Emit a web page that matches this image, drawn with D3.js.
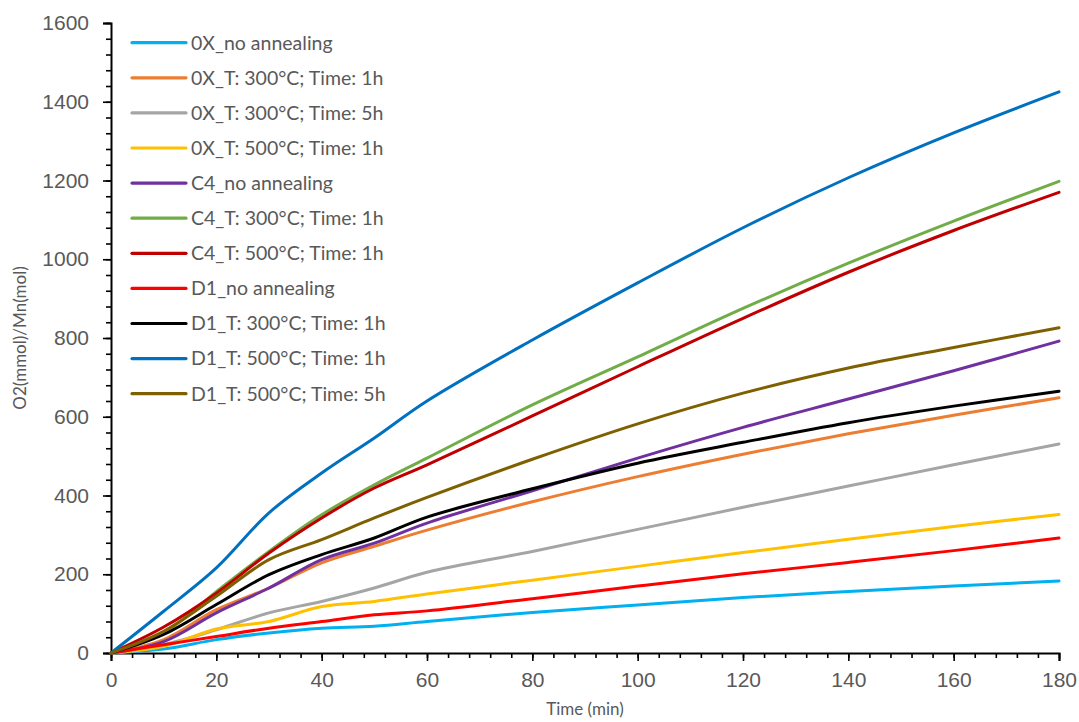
<!DOCTYPE html>
<meta charset="utf-8">
<style>
  body { margin: 0; background: #fff; }
  svg { display: block; font-family: Lato, "Open Sans", sans-serif; }
</style>
<svg width="1079" height="722"></svg>
<script src="https://d3js.org/d3.v7.min.js"></script>
<script>

// sampling times (min)
var times = [0, 10, 20, 30, 40, 50, 60, 80, 100, 120, 140, 160, 180];

// O2 evolution, one array per sample
var ox_none   = [0, 10, 34, 51, 63, 68, 80, 103, 122, 141, 156, 170, 183];
var ox_300_1h = [0, 34, 110, 165, 229, 271, 312, 384, 448, 505, 557, 604, 648];
var ox_300_5h = [0, 21, 59, 102, 131, 165, 205, 258, 314, 370, 424, 478, 531];
var ox_500_1h = [0, 17, 61, 80, 118, 131, 150, 185, 220, 255, 289, 321, 352];
var c4_none   = [0, 29, 102, 165, 237, 279, 330, 412, 495, 573, 645, 717, 792];
var c4_300_1h = [0, 51, 156, 258, 351, 427, 495, 630, 752, 875, 990, 1097, 1198];
var c4_500_1h = [0, 66, 152, 254, 343, 419, 478, 602, 727, 850, 967, 1073, 1170];
var d1_none   = [0, 21, 42, 63, 80, 97, 107, 138, 170, 201, 230, 260, 292];
var d1_300_1h = [0, 47, 123, 199, 250, 292, 345, 417, 482, 535, 585, 627, 665];
var d1_500_1h = [0, 106, 216, 356, 457, 546, 640, 795, 940, 1080, 1207, 1321, 1425];
var d1_500_5h = [0, 55, 144, 237, 288, 343, 395, 492, 582, 660, 724, 776, 826];

var names = ["0X_no annealing", "0X_T: 300°C; Time: 1h", "0X_T: 300°C; Time: 5h",
  "0X_T: 500°C; Time: 1h", "C4_no annealing", "C4_T: 300°C; Time: 1h",
  "C4_T: 500°C; Time: 1h", "D1_no annealing", "D1_T: 300°C; Time: 1h",
  "D1_T: 500°C; Time: 1h", "D1_T: 500°C; Time: 5h"];
var colors = ["#00B0F0", "#ED7D31", "#A5A5A5", "#FFC000", "#7030A0", "#70AD47",
  "#C00000", "#FF0000", "#000000", "#0070C0", "#7F6000"];
var values = [ox_none, ox_300_1h, ox_300_5h, ox_500_1h, c4_none, c4_300_1h,
  c4_500_1h, d1_none, d1_300_1h, d1_500_1h, d1_500_5h];

var series = names.map(function(n, i) {
  return {name: n, color: colors[i], pts: times.map(function(t, j) { return [t, values[i][j]]; })};
});

var svg = d3.select("svg");
var plotLeft = 111, plotRight = 1059, plotTop = 23, plotBottom = 653;

var x = d3.scaleLinear().domain([0, 180]).range([plotLeft, plotRight]);
var y = d3.scaleLinear().domain([0, 1600]).range([plotBottom, plotTop]);

var line = d3.line()
    .x(function(d) { return x(d[0]); })
    .y(function(d) { return y(d[1]); })
    .curve(d3.curveCatmullRom.alpha(0.5));

// minor ticks
svg.append("g")
    .attr("transform", "translate(0," + plotBottom + ")")
    .call(d3.axisBottom(x).tickValues(d3.range(0, 181, 4)).tickSize(5).tickFormat(""))
    .call(function(g) { g.select(".domain").remove(); });
svg.append("g")
    .attr("transform", "translate(" + plotLeft + ",0)")
    .call(d3.axisLeft(y).tickValues(d3.range(0, 1601, 40)).tickSize(5).tickFormat(""))
    .call(function(g) { g.select(".domain").remove(); });

svg.append("g")
    .attr("transform", "translate(0," + plotBottom + ")")
    .call(d3.axisBottom(x).tickValues(d3.range(0, 181, 20)).tickFormat(d3.format("d"))
      .tickSizeOuter(0).tickSize(8).tickPadding(11));
svg.append("g")
    .attr("transform", "translate(" + plotLeft + ",0)")
    .call(d3.axisLeft(y).tickValues(d3.range(0, 1601, 200)).tickFormat(d3.format("d"))
      .tickSizeOuter(0).tickSize(8).tickPadding(14));

svg.selectAll(".tick line").attr("stroke", "#000").attr("stroke-width", 1.6);
svg.selectAll(".domain").attr("stroke", "#000").attr("stroke-width", 2);
svg.selectAll(".tick text").attr("fill", "#595959").style("font-size", "21px");

// series
svg.append("g").selectAll("path")
  .data(series)
  .join("path")
    .attr("fill", "none")
    .attr("stroke", function(d) { return d.color; })
    .attr("stroke-width", 3)
    .attr("stroke-linecap", "round")
    .attr("d", function(d) { return line(d.pts); });

// legend
var legend = svg.append("g").selectAll("g")
  .data(series)
  .join("g")
    .attr("transform", function(d, i) { return "translate(132," + (42.7 + i * 35.1) + ")"; });
legend.append("line")
    .attr("x1", 0).attr("x2", 54)
    .attr("stroke", function(d) { return d.color; })
    .attr("stroke-width", 3.2)
    .attr("stroke-linecap", "round");
legend.append("text")
    .attr("x", 59).attr("dy", "0.35em")
    .attr("fill", "#595959")
    .style("font-size", "19.5px")
    .text(function(d) { return d.name; });

// axis titles
svg.append("text")
    .attr("x", (plotLeft + plotRight) / 2).attr("y", 715)
    .attr("text-anchor", "middle")
    .attr("fill", "#595959")
    .style("font-size", "17px")
    .text("Time (min)");
svg.append("text")
    .attr("transform", "translate(26," + ((plotTop + plotBottom) / 2) + ") rotate(-90)")
    .attr("text-anchor", "middle")
    .attr("fill", "#595959")
    .style("font-size", "17px")
    .text("O2(mmol)/Mn(mol)");

</script>
